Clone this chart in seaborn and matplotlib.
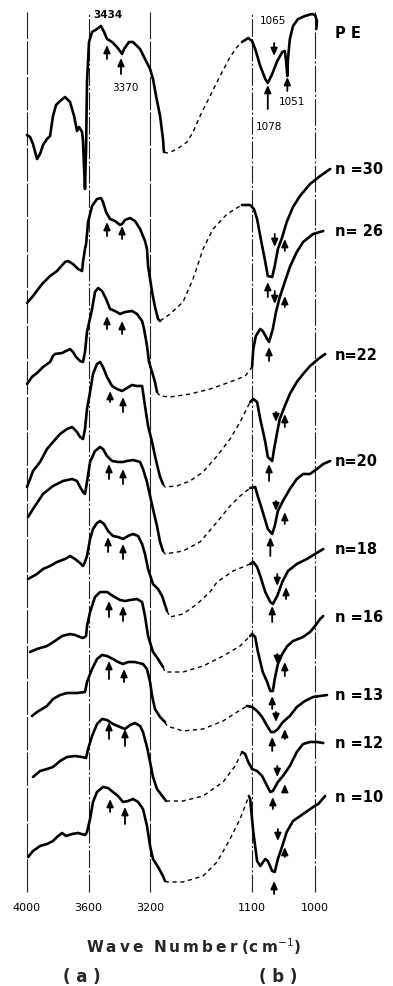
import numpy as np
import matplotlib
matplotlib.use("Agg")
import matplotlib.pyplot as plt
import seaborn as sns

# ---------------- data (wavenumber in cm^-1, relative transmittance a.u.) ----------------
PE_L_WN = [4000, 3980, 3961, 3935, 3915, 3896, 3870, 3850, 3831, 3811, 3785, 3753, 3720, 3694, 3675, 3662, 3642, 3636, 3630, 3623, 3616, 3610, 3597, 3577, 3545, 3519, 3499, 3480, 3447, 3415, 3382, 3369, 3337, 3311, 3265, 3233, 3200, 3181, 3161, 3135, 3116, 3110]
PE_L_Y = [4, 2, -5, -20, -15, -6, 0, 3, 23, 34, 38, 42, 37, 23, 8, 12, 7, -2, -25, -50, -10, 57, 97, 107, 110, 113, 107, 100, 97, 92, 85, 90, 97, 97, 90, 80, 70, 60, 43, 23, 0, -13]
PE_G_WN = [3090, 2987, 2792, 2596, 2429, 2234, 1955, 1677, 1398, 1202]
PE_G_Y = [-14, -12, -8, -3, 7, 23, 43, 63, 82, 92]
PE_R_WN = [1116, 1106, 1100, 1095, 1087, 1079, 1075, 1068, 1060, 1052, 1048, 1046, 1044, 1043, 1040, 1035, 1027, 1016, 1005, 1000, 997, 998]
PE_R_Y = [97, 101, 98, 90, 73, 60, 56, 65, 78, 87, 88, 78, 63, 80, 100, 113, 120, 123, 125, 124, 118, 110]

N30_L_WN = [4000, 3961, 3902, 3850, 3805, 3753, 3734, 3701, 3668, 3642, 3636, 3623, 3616, 3603, 3577, 3545, 3519, 3506, 3486, 3460, 3428, 3395, 3382, 3363, 3330, 3298, 3265, 3233, 3220, 3213, 3187, 3168, 3148, 3135]
N30_L_Y = [-4, 3, 15, 23, 28, 37, 38, 35, 30, 28, 37, 50, 55, 77, 93, 100, 101, 97, 87, 80, 78, 74, 75, 79, 81, 78, 70, 58, 50, 33, 7, -8, -20, -22]
N30_G_WN = [3070, 2708, 2429, 2150, 1872, 1481, 1119]
N30_G_Y = [-15, -3, 20, 50, 70, 85, 93]
N30_R_WN = [1116, 1103, 1097, 1092, 1087, 1079, 1075, 1068, 1064, 1059, 1052, 1045, 1035, 1024, 1008, 992, 976]
N30_R_Y = [94, 94, 90, 80, 63, 37, 23, 22, 33, 50, 62, 77, 92, 103, 115, 123, 130]

N26_L_WN = [4000, 3968, 3928, 3896, 3850, 3831, 3818, 3772, 3720, 3701, 3681, 3655, 3636, 3623, 3610, 3577, 3558, 3538, 3512, 3486, 3460, 3428, 3395, 3363, 3317, 3285, 3252, 3239, 3220, 3207, 3187, 3168, 3155]
N26_L_Y = [0, 7, 12, 17, 22, 28, 30, 31, 35, 32, 27, 23, 22, 32, 52, 75, 92, 96, 93, 85, 75, 73, 70, 72, 73, 70, 63, 55, 38, 22, 12, 2, -8]
N26_G_WN = [3135, 3070, 2513, 1955, 1398, 1111]
N26_G_Y = [-12, -13, -10, -5, 2, 8]
N26_R_WN = [1100, 1098, 1094, 1087, 1083, 1076, 1073, 1067, 1062, 1056, 1048, 1040, 1029, 1019, 1003, 987]
N26_R_Y = [17, 35, 48, 55, 53, 45, 42, 55, 72, 87, 102, 117, 132, 142, 150, 153]

N22_L_WN = [4000, 3980, 3961, 3915, 3870, 3831, 3785, 3740, 3707, 3675, 3655, 3636, 3623, 3610, 3590, 3571, 3545, 3525, 3506, 3480, 3447, 3415, 3382, 3350, 3317, 3285, 3252, 3246, 3233, 3213, 3187, 3168, 3148, 3135, 3116]
N22_L_Y = [0, 8, 16, 25, 38, 45, 53, 58, 60, 55, 50, 48, 58, 78, 95, 113, 123, 125, 120, 110, 101, 98, 96, 99, 102, 101, 101, 95, 81, 61, 45, 31, 18, 10, 3]
N22_G_WN = [3103, 2875, 2513, 2150, 1760, 1398, 1119]
N22_G_Y = [0, 1, 6, 15, 31, 48, 65]
N22_R_WN = [1103, 1098, 1092, 1087, 1079, 1075, 1068, 1065, 1060, 1056, 1048, 1040, 1029, 1019, 1008, 995, 984]
N22_R_Y = [85, 88, 85, 68, 45, 30, 26, 38, 55, 68, 81, 93, 105, 113, 121, 128, 133]

N20_L_WN = [3993, 3961, 3896, 3831, 3766, 3707, 3675, 3655, 3636, 3623, 3610, 3590, 3558, 3525, 3506, 3480, 3447, 3408, 3376, 3350, 3311, 3265, 3246, 3220, 3200, 3181, 3155, 3135, 3116]
N20_L_Y = [0, 8, 23, 31, 36, 38, 36, 30, 25, 23, 35, 55, 66, 70, 68, 61, 56, 55, 55, 56, 57, 55, 48, 35, 21, 8, -9, -25, -34]
N20_G_WN = [3103, 2708, 2234, 1760, 1398, 1119]
N20_G_Y = [-37, -34, -25, -5, 11, 21]
N20_R_WN = [1103, 1095, 1091, 1083, 1075, 1068, 1064, 1059, 1051, 1040, 1029, 1019, 1008, 997, 987, 976]
N20_R_Y = [29, 30, 21, 5, -12, -17, -9, 6, 16, 28, 38, 43, 43, 48, 53, 56]

N18_L_WN = [3993, 3935, 3896, 3850, 3805, 3753, 3720, 3688, 3655, 3636, 3623, 3610, 3590, 3571, 3545, 3525, 3499, 3473, 3441, 3408, 3376, 3343, 3311, 3278, 3252, 3233, 3213, 3181, 3148, 3122, 3090]
N18_L_Y = [0, 5, 10, 13, 17, 20, 23, 20, 16, 13, 17, 23, 40, 50, 56, 58, 55, 48, 43, 42, 40, 43, 45, 43, 35, 25, 10, -5, -10, -17, -32]
N18_G_WN = [3070, 2708, 2318, 1955, 1760, 1314]
N18_G_Y = [-38, -35, -25, -13, -3, 8]
N18_R_WN = [1103, 1098, 1092, 1087, 1079, 1071, 1067, 1060, 1052, 1043, 1029, 1013, 1000, 987]
N18_R_Y = [15, 17, 12, 3, -13, -23, -25, -17, -3, 8, 15, 20, 25, 30]

N16_L_WN = [3980, 3935, 3870, 3818, 3772, 3720, 3688, 3655, 3636, 3616, 3610, 3590, 3558, 3525, 3480, 3441, 3395, 3363, 3330, 3285, 3252, 3233, 3213, 3181, 3148, 3116]
N16_L_Y = [0, 3, 6, 11, 16, 18, 17, 15, 14, 16, 26, 40, 55, 60, 60, 56, 52, 51, 52, 53, 50, 36, 16, 0, -7, -15]
N16_G_WN = [3103, 2708, 2150, 1593, 1119]
N16_G_Y = [-20, -20, -14, -4, 6]
N16_R_WN = [1103, 1100, 1095, 1091, 1083, 1076, 1071, 1067, 1064, 1059, 1052, 1044, 1035, 1019, 1008, 1000, 992, 987]
N16_R_Y = [16, 18, 15, 1, -20, -30, -39, -39, -27, -12, -2, 6, 11, 15, 20, 26, 33, 36]

N13_L_WN = [3967, 3935, 3870, 3831, 3785, 3740, 3675, 3623, 3610, 3577, 3545, 3512, 3480, 3441, 3408, 3376, 3343, 3298, 3246, 3220, 3200, 3187, 3168, 3135, 3103]
N13_L_Y = [0, 4, 10, 17, 21, 23, 23, 24, 34, 47, 57, 61, 60, 57, 54, 52, 54, 54, 52, 47, 34, 20, 7, -1, -6]
N13_G_WN = [3090, 2708, 2150, 1593, 1202]
N13_G_Y = [-10, -15, -13, -5, 4]
N13_R_WN = [1108, 1100, 1092, 1084, 1076, 1070, 1065, 1059, 1051, 1040, 1029, 1016, 1003, 992, 981]
N13_R_Y = [10, 9, 5, -1, -10, -16, -16, -13, -6, 0, 9, 15, 19, 20, 21]

N12_L_WN = [3961, 3915, 3870, 3831, 3785, 3740, 3688, 3642, 3616, 3603, 3577, 3545, 3512, 3480, 3441, 3395, 3363, 3330, 3298, 3265, 3246, 3220, 3200, 3181, 3155, 3116, 3096]
N12_L_Y = [0, 6, 8, 10, 16, 20, 21, 20, 19, 28, 41, 53, 58, 57, 53, 50, 48, 52, 54, 51, 45, 30, 15, 0, -12, -20, -24]
N12_G_WN = [3083, 2708, 2150, 1593, 1258]
N12_G_Y = [-24, -24, -19, -5, 11]
N12_R_WN = [1116, 1111, 1106, 1100, 1092, 1084, 1076, 1071, 1067, 1059, 1051, 1040, 1029, 1019, 1008, 997, 987]
N12_R_Y = [25, 23, 15, 8, 6, 1, -9, -15, -14, -5, 1, 11, 25, 33, 35, 35, 34]

N10_L_WN = [3993, 3961, 3915, 3870, 3831, 3798, 3772, 3746, 3707, 3668, 3623, 3610, 3590, 3571, 3545, 3506, 3473, 3441, 3408, 3376, 3343, 3311, 3278, 3246, 3220, 3200, 3181, 3148, 3116, 3103]
N10_L_Y = [0, 6, 11, 13, 16, 21, 24, 21, 23, 24, 22, 25, 38, 55, 65, 70, 69, 65, 61, 55, 56, 58, 55, 48, 31, 11, -2, -10, -19, -24]
N10_G_WN = [3090, 2708, 2150, 1760, 1398, 1119]
N10_G_Y = [-25, -25, -19, -5, 18, 38]
N10_R_WN = [1105, 1103, 1098, 1092, 1087, 1079, 1075, 1068, 1064, 1059, 1052, 1045, 1035, 1019, 1003, 995, 984]
N10_R_Y = [61, 58, 25, -4, -9, -2, -4, -14, -15, -2, 11, 25, 36, 43, 50, 53, 61]

TRACE_NAMES = ["P E", "n =30", "n= 26", "n=22", "n=20", "n=18", "n =16", "n =13", "n =12", "n =10"]
TRACE_OFFSETS = [760, 600, 515, 412, 382, 320, 247, 183, 122, 42]

# marker arrows: trace index, wavenumber, tail value, head value
ARROW_TRACE = [0]*5 + [1]*5 + [2]*5 + [3]*5 + [4]*5 + [5]*5 + [6]*5 + [7]*5 + [8]*5 + [9]*5
ARROW_WN = [3480, 3389, 1065, 1075, 1044,
            3480, 3382, 1064, 1048, 1075,
            3480, 3382, 1064, 1048, 1073,
            3460, 3376, 1062, 1048, 1073,
            3467, 3376, 1062, 1048, 1071,
            3473, 3376, 1060, 1046, 1068,
            3467, 3376, 1060, 1048, 1068,
            3467, 3369, 1062, 1048, 1068,
            3467, 3363, 1060, 1048, 1067,
            3460, 3363, 1059, 1048, 1065]
ARROW_TAIL = [80, 65, 96, 30, 48,
              63, 60, 65, 48, 2,
              55, 50, 93, 77, 23,
              85, 75, 75, 60, 6,
              38, 33, 16, -7, -39,
              27, 20, 5, -20, -43,
              35, 31, -2, -24, -57,
              37, 34, 4, -23, -35,
              38, 31, 11, -15, -32,
              45, 33, 28, 0, -37]
ARROW_HEAD = [94, 81, 83, 54, 62,
              77, 73, 52, 60, 17,
              68, 63, 80, 88, 37,
              96, 90, 65, 73, 23,
              53, 48, 6, 5, -20,
              42, 35, -7, -8, -27,
              51, 46, -12, -10, -44,
              55, 47, -6, -13, -21,
              55, 48, 0, -7, -20,
              58, 50, 16, 10, -24]

PEAK_LABELS = ["3434", "3370", "1065", "1078", "1051"]
PEAK_LABEL_WN = [3473, 3363, 1067, 1073, 1037]
PEAK_LABEL_Y = [885, 812, 879, 773, 798]

TICK_WN = [4000, 3600, 3200, 1100, 1000]
TICK_LABELS = ["4000", "3600", "3200", "1100", "1000"]

# ---------------- figure ----------------
sns.set_theme(style="white")
plt.rcParams['font.family'] = ['DejaVu Sans']

W, H = 393, 987
fig = plt.figure(figsize=(W / 100, H / 100), dpi=100)
fig.patch.set_facecolor("white")
ax = fig.add_axes([0, 1 - 900 / H, 1, 900 / H])
ax.set_facecolor("white")


# broken wavenumber axis: 4000-3070 and 1119-600 expanded, gap compressed
_W_KNOTS = [600, 1119, 3070.5, 4500]
_U_KNOTS = [-567.1, -240.08, -170.0, 49.92]


def _fwd(w):
    return np.interp(np.asarray(w, dtype=float), _W_KNOTS, _U_KNOTS)


def _inv(u):
    return np.interp(np.asarray(u, dtype=float), _U_KNOTS, _W_KNOTS)


ax.set_xscale('function', functions=(_fwd, _inv))

traces = [
    (PE_L_WN, PE_L_Y, PE_G_WN, PE_G_Y, PE_R_WN, PE_R_Y),
    (N30_L_WN, N30_L_Y, N30_G_WN, N30_G_Y, N30_R_WN, N30_R_Y),
    (N26_L_WN, N26_L_Y, N26_G_WN, N26_G_Y, N26_R_WN, N26_R_Y),
    (N22_L_WN, N22_L_Y, N22_G_WN, N22_G_Y, N22_R_WN, N22_R_Y),
    (N20_L_WN, N20_L_Y, N20_G_WN, N20_G_Y, N20_R_WN, N20_R_Y),
    (N18_L_WN, N18_L_Y, N18_G_WN, N18_G_Y, N18_R_WN, N18_R_Y),
    (N16_L_WN, N16_L_Y, N16_G_WN, N16_G_Y, N16_R_WN, N16_R_Y),
    (N13_L_WN, N13_L_Y, N13_G_WN, N13_G_Y, N13_R_WN, N13_R_Y),
    (N12_L_WN, N12_L_Y, N12_G_WN, N12_G_Y, N12_R_WN, N12_R_Y),
    (N10_L_WN, N10_L_Y, N10_G_WN, N10_G_Y, N10_R_WN, N10_R_Y),
]

# grid lines of the chart paper
grid_styles = [(0, (30, 2)), (0, (16, 2, 2, 2)), (0, (30, 2)), (0, (16, 2, 2, 2)), (0, (24, 2, 2, 2))]
for wn, ls in zip(TICK_WN, grid_styles):
    ax.plot([wn, wn], [7, 887], color="#222222", lw=0.8, linestyle=ls, zorder=1)

solid_kw = dict(color="black", lw=1.9, sort=False, estimator=None,
                solid_joinstyle="round", solid_capstyle="round", zorder=3)
dash_kw = dict(color="black", lw=1.0, sort=False, estimator=None,
               linestyle=(0, (3.0, 2.6)), zorder=2)

for i, (lwn, ly, gwn, gy, rwn, ry) in enumerate(traces):
    off = TRACE_OFFSETS[i]
    sns.lineplot(x=lwn, y=np.add(ly, off), ax=ax, **solid_kw)
    gx = [lwn[-1]] + list(gwn) + [rwn[0]]
    gyy = [ly[-1]] + list(gy) + [ry[0]]
    sns.lineplot(x=gx, y=np.add(gyy, off), ax=ax, **dash_kw)
    sns.lineplot(x=rwn, y=np.add(ry, off), ax=ax, **solid_kw)
    ax.text(968, ry[-1] + off + (-4 if i == 0 else 0), TRACE_NAMES[i], ha="left", va="center",
            fontsize=10.5, fontweight="bold", color="black")

for t, wn, tail, head in zip(ARROW_TRACE, ARROW_WN, ARROW_TAIL, ARROW_HEAD):
    off = TRACE_OFFSETS[t]
    ax.annotate("", xy=(wn, head + off), xytext=(wn, tail + off),
                arrowprops=dict(arrowstyle="-|>,head_length=0.5,head_width=0.22",
                                color="black", lw=1.3, shrinkA=0, shrinkB=0,
                                mutation_scale=9), zorder=4)

for lab, wn, yy in zip(PEAK_LABELS, PEAK_LABEL_WN, PEAK_LABEL_Y):
    ax.text(wn, yy, lab, ha="center", va="center", fontsize=7.5,
            fontweight="bold" if lab == "3434" else "normal", color="black")

ax.set_xlim(4175.5, 876.3)
ax.set_ylim(0, 900)
ax.set_xticks(TICK_WN)
ax.set_xticklabels(TICK_LABELS, fontsize=8, color="black")
ax.set_yticks([])
ax.tick_params(axis="x", length=0, pad=2)
ax.set_xlabel("")
ax.set_ylabel("")
for s in ax.spines.values():
    s.set_visible(False)

sp = "\u2009"
fig.text(193 / W, 1 - 947 / H, sp.join("Wave") + "  " + sp.join("Number") + " (c" + sp + "m$^{-1}$)",
         ha="center", va="center", fontsize=11, fontweight="bold")
fig.text(82 / W, 1 - 977 / H, "( a )", ha="center", va="center", fontsize=12, fontweight="bold")
fig.text(278 / W, 1 - 977 / H, "( b )", ha="center", va="center", fontsize=12, fontweight="bold")

fig.savefig("out.png", dpi=100, facecolor="white")
